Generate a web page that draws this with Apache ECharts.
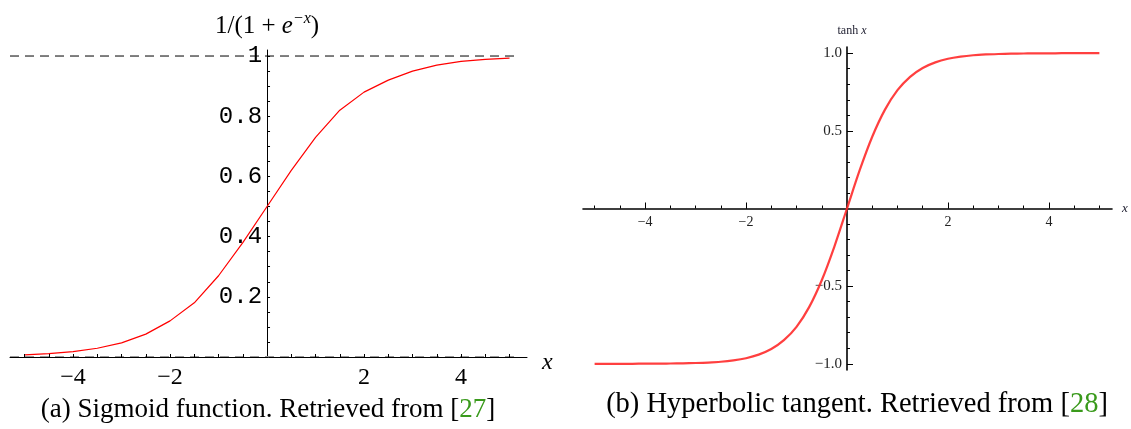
<!DOCTYPE html>
<html>
<head>
<meta charset="utf-8">
<script src="https://cdn.jsdelivr.net/npm/echarts@6/dist/echarts.min.js"></script>
<style>
  html, body { margin: 0; padding: 0; background: #fff; }
  #chart { width: 1131px; height: 429px; }
</style>
</head>
<body>
<div id="chart"></div>
<script>
// sigmoid panel
const sigX = [-5, -4.5, -4, -3.5, -3, -2.5, -2, -1.5, -1, -0.5, 0, 0.5, 1, 1.5, 2, 2.5, 3, 3.5, 4, 4.5, 5];
const sigY = [0.007, 0.011, 0.018, 0.029, 0.047, 0.076, 0.12, 0.18, 0.27, 0.38, 0.5, 0.62, 0.73, 0.82, 0.88, 0.92, 0.95, 0.97, 0.982, 0.989, 0.993];
const asymX = [-5.3, 5.1];
const sigXTicks = [-5, -4.5, -4, -3.5, -3, -2.5, -2, -1.5, -1, -0.5, 0.5, 1, 1.5, 2, 2.5, 3, 3.5, 4, 4.5, 5];
const sigXLabels = [-4, -2, 2, 4];
const sigYTicks = [0.05, 0.1, 0.15, 0.2, 0.25, 0.3, 0.35, 0.4, 0.45, 0.5, 0.55, 0.6, 0.65, 0.7, 0.75, 0.8, 0.85, 0.9, 0.95, 1];
const sigYLabels = [0.2, 0.4, 0.6, 0.8, 1];

// tanh panel
const tanhX = [-5, -4.75, -4.5, -4.25, -4, -3.75, -3.5, -3.25, -3, -2.75, -2.5, -2.25, -2, -1.75, -1.5, -1.25, -1, -0.75, -0.5, -0.25,
    0, 0.25, 0.5, 0.75, 1, 1.25, 1.5, 1.75, 2, 2.25, 2.5, 2.75, 3, 3.25, 3.5, 3.75, 4, 4.25, 4.5, 4.75, 5];
const tanhY = [-1, -1, -1, -1, -0.999, -0.999, -0.998, -0.997, -0.995, -0.992, -0.987, -0.978, -0.964, -0.941, -0.905, -0.848, -0.762, -0.635, -0.462, -0.245,
    0, 0.245, 0.462, 0.635, 0.762, 0.848, 0.905, 0.941, 0.964, 0.978, 0.987, 0.992, 0.995, 0.997, 0.998, 0.999, 0.999, 1, 1, 1, 1];
const tanhXMinor = [-5, -4.5, -4, -3.5, -3, -2.5, -2, -1.5, -1, -0.5, 0.5, 1, 1.5, 2, 2.5, 3, 3.5, 4, 4.5, 5];
const tanhXMajor = [-4, -2, 2, 4];
const tanhYMinor = [-1, -0.9, -0.8, -0.7, -0.6, -0.5, -0.4, -0.3, -0.2, -0.1, 0.1, 0.2, 0.3, 0.4, 0.5, 0.6, 0.7, 0.8, 0.9, 1];
const tanhYMajor = [-1, -0.5, 0.5, 1];

const serif = 'Liberation Serif';
const minus = v => String(v).replace('-', '\u2212');
const zip = (xs, ys) => xs.map((x, i) => [x, ys[i]]);

// panel boxes and ranges
const g1 = { left: 10, top: 50, width: 517, height: 307 };
const g2 = { left: 583, top: 47, width: 529, height: 323 };
const r1x = [-5.3, 5.36], r1y = [0, 1.02];
const r2x = [-5.23, 5.25], r2y = [-1.04, 1.04];

// shift axes so they cross at the origin
const yShift = (g, rx) => -(0 - rx[0]) / (rx[1] - rx[0]) * g.width;
const xShift = (g, ry) => -(0 - ry[0]) / (ry[1] - ry[0]) * g.height;

const chart = echarts.init(document.getElementById('chart'));

const option = {
    animation: false,
    backgroundColor: '#fff',
    grid: [
        Object.assign({ outerBoundsMode: 'none', containLabel: false }, g1),
        Object.assign({ outerBoundsMode: 'none', containLabel: false }, g2)
    ],
    xAxis: [
        {
            gridIndex: 0, type: 'value', min: r1x[0], max: r1x[1], position: 'bottom',
            axisLine: { onZero: false, lineStyle: { color: '#000', width: 1 } },
            axisTick: { inside: true, length: 3, customValues: sigXTicks, lineStyle: { color: '#000' } },
            axisLabel: { customValues: sigXLabels, formatter: minus, margin: 9, fontFamily: serif, fontSize: 24, color: '#000' },
            splitLine: { show: false },
            name: '{a|x}', nameLocation: 'end', nameGap: 15,
            nameTextStyle: {
                verticalAlign: 'middle',
                rich: { a: { fontFamily: serif, fontStyle: 'italic', fontSize: 24, color: '#000', padding: [12, 0, 0, 0] } }
            },
            z: 5
        },
        {
            gridIndex: 1, type: 'value', min: r2x[0], max: r2x[1], position: 'bottom', offset: xShift(g2, r2y),
            axisLine: { onZero: false, lineStyle: { color: '#000', width: 1.6 } },
            axisTick: { inside: true, length: 3, customValues: tanhXMinor, lineStyle: { color: '#000' } },
            axisLabel: { customValues: tanhXMajor, formatter: minus, margin: 7, fontFamily: serif, fontSize: 14, color: '#222' },
            splitLine: { show: false },
            name: 'x', nameLocation: 'end', nameGap: 10,
            nameTextStyle: { fontFamily: serif, fontStyle: 'italic', fontSize: 13, color: '#223' }
        },
        {
            gridIndex: 1, type: 'value', min: r2x[0], max: r2x[1], position: 'bottom', offset: xShift(g2, r2y),
            axisLine: { show: false, onZero: false },
            axisTick: { inside: true, length: 6, customValues: tanhXMajor, lineStyle: { color: '#000' } },
            axisLabel: { show: false },
            splitLine: { show: false }
        }
    ],
    yAxis: [
        {
            gridIndex: 0, type: 'value', min: r1y[0], max: r1y[1], position: 'left', offset: yShift(g1, r1x),
            axisLine: { onZero: false, lineStyle: { color: '#000', width: 1 } },
            axisTick: { inside: true, length: 3, customValues: sigYTicks, lineStyle: { color: '#000' } },
            axisLabel: {
                customValues: sigYLabels, margin: 5,
                formatter: v => (v === 1 ? '1' : v.toFixed(1)),
                fontFamily: 'Liberation Mono', fontSize: 24, color: '#000'
            },
            splitLine: { show: false },
            name: '{n|1/(1 + }{i|e}{s|\u2212x}{n|)}', nameLocation: 'end', nameGap: 9,
            nameTextStyle: {
                rich: {
                    n: { fontFamily: serif, fontSize: 25, color: '#000', lineHeight: 30 },
                    i: { fontFamily: serif, fontStyle: 'italic', fontSize: 25, color: '#000', lineHeight: 30 },
                    s: { fontFamily: serif, fontStyle: 'italic', fontSize: 16, color: '#000', verticalAlign: 'top', lineHeight: 30 }
                }
            }
        },
        {
            gridIndex: 1, type: 'value', min: r2y[0], max: r2y[1], position: 'left', offset: yShift(g2, r2x),
            axisLine: { onZero: false, lineStyle: { color: '#000', width: 1.6 } },
            axisTick: { inside: true, length: 3, customValues: tanhYMinor, lineStyle: { color: '#000' } },
            axisLabel: {
                customValues: tanhYMajor, margin: 5,
                formatter: v => minus(v.toFixed(1)),
                fontFamily: serif, fontSize: 15, color: '#222'
            },
            splitLine: { show: false },
            name: '{n|tanh }{i|x}', nameLocation: 'end', nameGap: 10,
            nameTextStyle: {
                padding: [0, 0, 0, 10],
                rich: {
                    n: { fontFamily: serif, fontSize: 12, color: '#223' },
                    i: { fontFamily: serif, fontStyle: 'italic', fontSize: 12, color: '#223' }
                }
            }
        },
        {
            gridIndex: 1, type: 'value', min: r2y[0], max: r2y[1], position: 'left', offset: yShift(g2, r2x),
            axisLine: { show: false, onZero: false },
            axisTick: { inside: true, length: 6, customValues: tanhYMajor, lineStyle: { color: '#000' } },
            axisLabel: { show: false },
            splitLine: { show: false }
        }
    ],
    series: [
        {
            type: 'line', xAxisIndex: 0, yAxisIndex: 0, symbol: 'none', silent: true,
            data: zip(asymX, [1, 1]),
            lineStyle: { color: '#000', width: 1, type: [9, 6] }
        },
        {
            type: 'line', xAxisIndex: 0, yAxisIndex: 0, symbol: 'none', silent: true,
            data: zip(asymX, [0, 0]),
            lineStyle: { color: '#999', width: 2, type: [9, 6] },
            z: 1
        },
        {
            type: 'line', xAxisIndex: 0, yAxisIndex: 0, symbol: 'none',
            data: zip(sigX, sigY),
            lineStyle: { color: '#ff0000', width: 1.2 }
        },
        {
            type: 'line', xAxisIndex: 1, yAxisIndex: 1, symbol: 'none', smooth: 0.3,
            data: zip(tanhX, tanhY),
            lineStyle: { color: '#ff2a2a', width: 2.2, opacity: 0.9 }
        }
    ],
    graphic: [
        {
            type: 'text', x: 268, y: 410,
            style: {
                text: '{t|(a) Sigmoid function. Retrieved from [}{g|27}{t|]}',
                align: 'center', verticalAlign: 'middle',
                rich: {
                    t: { fontFamily: serif, fontSize: 27, fill: '#000' },
                    g: { fontFamily: serif, fontSize: 27, fill: '#3a9a1c' }
                }
            }
        },
        {
            type: 'text', x: 857, y: 405,
            style: {
                text: '{t|(b) Hyperbolic tangent. Retrieved from [}{g|28}{t|]}',
                align: 'center', verticalAlign: 'middle',
                rich: {
                    t: { fontFamily: serif, fontSize: 28.5, fill: '#000' },
                    g: { fontFamily: serif, fontSize: 28.5, fill: '#3a9a1c' }
                }
            }
        }
    ]
};

chart.setOption(option);
</script>
</body>
</html>
